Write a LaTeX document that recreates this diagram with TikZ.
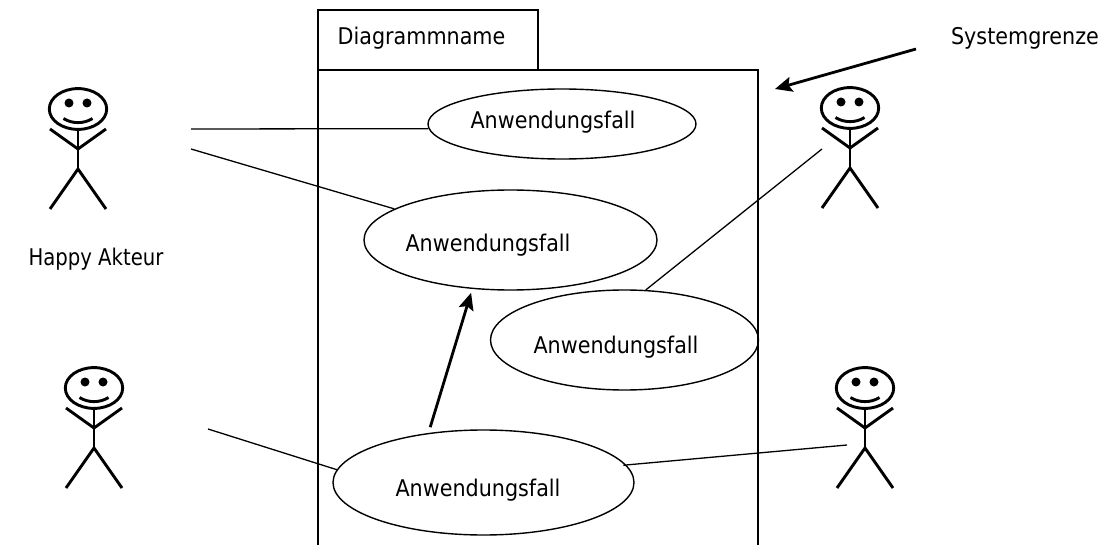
\documentclass[tikz,border=0pt]{standalone}
\usepackage{fontspec}
\setmainfont{DejaVu Sans}[FakeStretch=0.9]
\usetikzlibrary{shapes.geometric, arrows.meta}
\tikzset{
  usecase/.style={draw, ellipse, inner sep=0pt, line width=1.4pt},
  lbl/.style={inner sep=0pt, font=\fontsize{23}{27}\selectfont},
  boxline/.style={line width=1.4pt},
  assoc/.style={line width=1.3pt},
  heavy/.style={arrows=-{Stealth[length=17pt, width=15pt, inset=3pt]}, line width=2.8pt},
  actor/.pic={
    \draw[line width=2.9pt] (0,0) ellipse [x radius=28.7, y radius=20.4];
    \fill (-9,-6) circle [radius=4.5];
    \fill (9,-6) circle [radius=4.5];
    \draw[line width=2.9pt] (-14.5,9.5) .. controls (-6,15) and (6,15) .. (14.5,9.5);
    \draw[line width=2.9pt] (0,20) -- (0,60);
    \draw[line width=2.9pt] (-28,20) -- (0,40) -- (28,20);
    \draw[line width=2.9pt] (-28,100) -- (0,60) -- (28,100);
  }
}
\begin{document}
\begin{tikzpicture}[x=1pt, y=-1pt]
\useasboundingbox (0,0) rectangle (1103,545);
% system box
\coordinate (bl) at (318,545);
\coordinate (br) at (758,545);
\draw[boxline] (bl) -- (318,70) -- (758,70) -- (br);
\draw[boxline] (318,70) -- (318,10) -- (538,10) -- (538,70);
% use cases
\node (e1) [usecase, minimum width=268pt, minimum height=70pt] at (562,124) {};
\node (e2) [usecase, minimum width=293pt, minimum height=100pt] at (510.5,240) {};
\node (e3) [usecase, minimum width=268pt, minimum height=100pt] at (624.5,340) {};
\node (e4) [usecase, minimum width=301pt, minimum height=105pt] at (483.5,482.5) {};
\node (t1) [lbl] at (553,122) {Anwendungsfall};
\node (t2) [lbl] at (488,245) {Anwendungsfall};
\node (t3) [lbl] at (616,347) {Anwendungsfall};
\node (t4) [lbl] at (478,490) {Anwendungsfall};
% texts
\node (name) [lbl] at (421.5,38) {Diagrammname};
\node (grenze) [lbl] at (1025,38) {Systemgrenze};
\node (happy) [lbl, xscale=0.95] at (96,259) {Happy Akteur};
% actors
\pic at (78,109) {actor};
\pic at (850,108) {actor};
\pic at (94,388) {actor};
\pic at (865,388) {actor};
% free ends
\coordinate (a1) at (191,129);
\coordinate (a2) at (191,149);
\coordinate (a3) at (822,149);
\coordinate (a4) at (208,429);
\coordinate (a5) at (847,445);
\coordinate (g1) at (916,49);
\coordinate (g2) at (775,89);
\draw[assoc] (a1) -- (e1.182);
\draw[assoc] (a2) -- (e2.165);
\draw[assoc] (a3) -- (e3.67);
\draw[assoc] (a4) -- (e4.175);
\draw[assoc, shorten >=-3pt] (a5) -- (e4.7);
\draw[heavy, shorten <=6pt, shorten >=4pt] (e4.138) -- (e2.232);
\draw[heavy] (g1) -- (g2);
\end{tikzpicture}
\end{document}
